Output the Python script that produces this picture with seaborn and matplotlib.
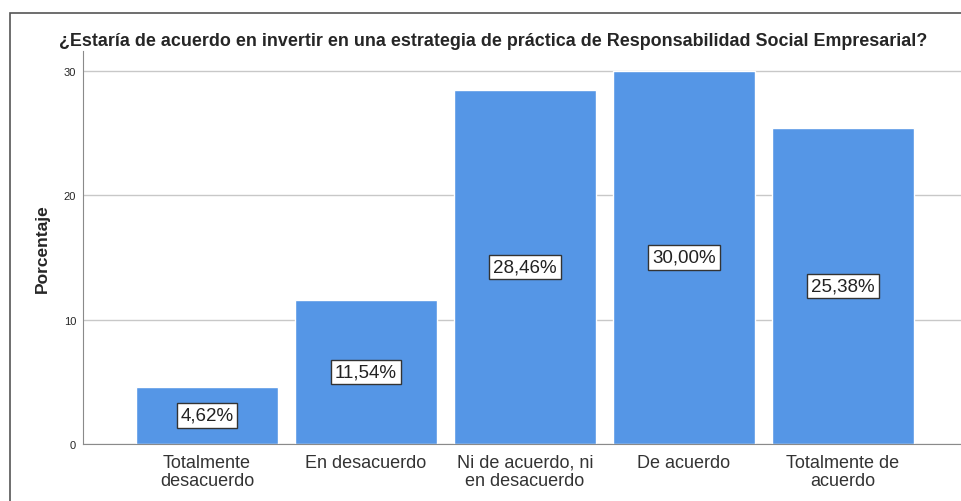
import matplotlib
matplotlib.use("Agg")
import matplotlib.pyplot as plt
import seaborn as sns
import pandas as pd
from matplotlib.patches import Rectangle

# datos de la encuesta
categorias = ["Totalmente\ndesacuerdo", "En desacuerdo", "Ni de acuerdo, ni\nen desacuerdo",
              "De acuerdo", "Totalmente de\nacuerdo"]
porcentajes = [4.62, 11.54, 28.46, 30.00, 25.38]
yticks = [0, 10, 20, 30]

df = pd.DataFrame({"cat": categorias, "pct": porcentajes})

sns.set_style("white")
plt.rcParams['font.family'] = ['Liberation Sans', 'DejaVu Sans']

fig = plt.figure(figsize=(9.61, 5.02), dpi=100)
ax = fig.add_axes([83/961, 57/502, 884/961, 393/502])

sns.barplot(data=df, x="cat", y="pct", color="#5596E6", saturation=1, width=0.89, ax=ax)

ax.set_xlim(-0.78, 4.78)
ax.set_ylim(0, 31.6)
ax.set_yticks(yticks)
ax.yaxis.grid(True, color="#c8c8c8", lw=1)
ax.set_axisbelow(True)
for s in ["top", "right"]:
    ax.spines[s].set_visible(False)
for s in ["left", "bottom"]:
    ax.spines[s].set_color("#8a8a8a")
ax.tick_params(axis="y", length=0, labelsize=8, pad=5)
ax.tick_params(axis="x", length=0, labelsize=13, labelcolor="#333333", pad=7)
for t in ax.get_xticklabels():
    t.set_linespacing(1.1)
ax.set_xlabel("")
ax.set_ylabel("Porcentaje", fontsize=12.5, fontweight="bold", labelpad=10)

# etiquetas en el centro de cada barra
for i, v in enumerate(porcentajes):
    ax.text(i, v / 2, f"{v:.2f}%".replace(".", ","), ha="center", va="center",
            fontsize=13.5, color="#222222",
            bbox=dict(facecolor="white", edgecolor="#333333", boxstyle="square,pad=0.2", lw=1))

fig.text(493/961, 1 - 41/502,
         "¿Estaría de acuerdo en invertir en una estrategia de práctica de Responsabilidad Social Empresarial?",
         ha="center", va="center", fontsize=12.9, fontweight="bold")

# marco exterior
fig.patches.append(Rectangle((10/961, -0.1), 1.2, 1.1 - 14/502, transform=fig.transFigure,
                             fill=False, edgecolor="#555555", lw=1.2))

fig.savefig("out.png", dpi=100)
